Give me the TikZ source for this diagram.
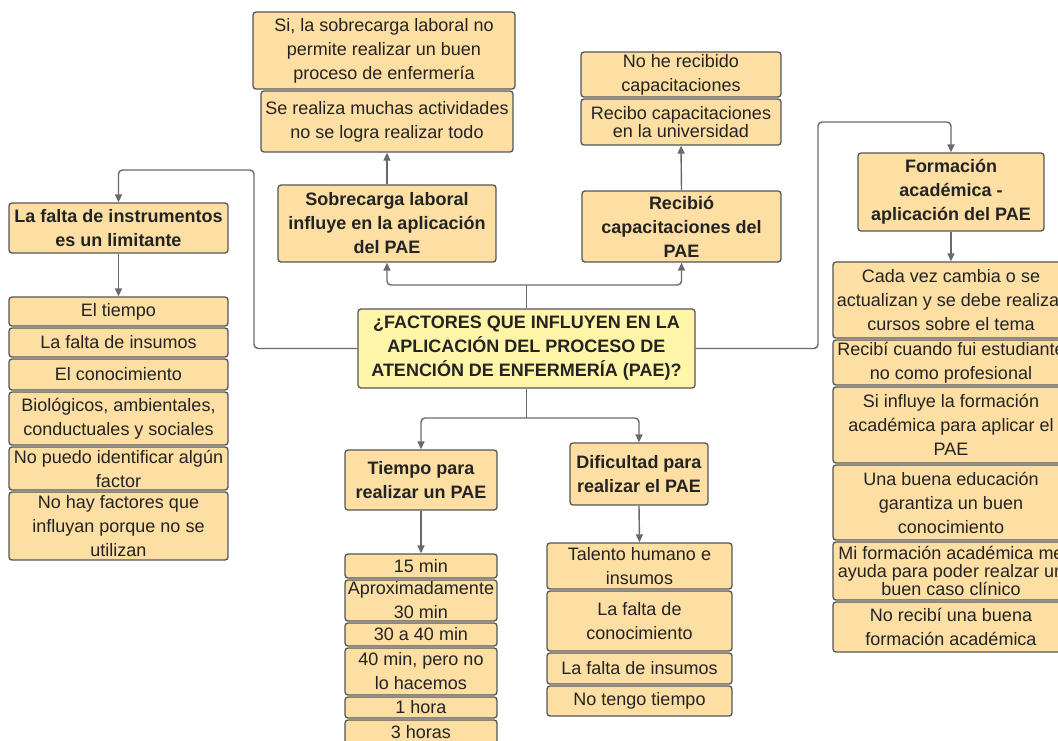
\documentclass[tikz,border=0pt]{standalone}
\usepackage{fontspec}
\setmainfont{Liberation Sans}
\usepackage{tikz}
\usetikzlibrary{arrows.meta,positioning}
\definecolor{boxPeach}{RGB}{253,222,163}
\definecolor{coreYellow}{RGB}{255,245,168}
\definecolor{edgeGray}{RGB}{85,85,85}
\definecolor{linkGray}{RGB}{105,105,105}
\definecolor{inkGray}{RGB}{35,35,35}

\begin{document}
\begin{tikzpicture}[x=1pt,y=-1pt,
    box/.style={draw=edgeGray,fill=boxPeach,line width=1.3pt,rounded corners=3pt,inner sep=0pt,align=center,text=inkGray,font=\fontsize{18}{24}\selectfont},
    head/.style={box,font=\fontsize{18}{24}\selectfont\bfseries},
    core/.style={head,fill=coreYellow},
    tight/.style={font=\fontsize{18}{18}\selectfont},
    dims/.style 2 args={minimum width=#1pt,minimum height=#2pt},
    link/.style={draw=linkGray,line width=1.4pt,rounded corners=4pt},
    tip/.style={link,-{Triangle[length=8pt,width=7pt]}}]
  \useasboundingbox (0,0) rectangle (1058,740);

  \node[core,dims={337}{79}] (core) at (526.5,348.5) {¿FACTORES QUE INFLUYEN EN LA\\APLICACIÓN DEL PROCESO DE\\ATENCIÓN DE ENFERMERÍA (PAE)?};

  \node[head,dims={219}{50}] (lack) at (118.5,228) {La falta de instrumentos\\es un limitante};
  \node[box,dims={219}{29}] (lackA) at (118.5,311.5) {El tiempo};
  \node[box,dims={219}{29}] (lackB) at (118.5,342.5) {La falta de insumos};
  \node[box,dims={219}{31}] (lackC) at (118.5,374.5) {El conocimiento};
  \node[box,dims={219}{53}] (lackD) at (118.5,418.5) {Biológicos, ambientales,\\conductuales y sociales};
  \node[box,dims={219}{43}] (lackE) at (118.5,468.5) {No puedo identificar algún\\factor};
  \node[box,dims={219}{68}] (lackF) at (118.5,526) {No hay factores que\\influyan porque no se\\utilizan};

  \node[head,dims={218}{77}] (sobre) at (387,223.5) {Sobrecarga laboral\\influye en la aplicación\\del PAE};
  \node[box,dims={262}{77}] (sobreA) at (384,50.5) {Si, la sobrecarga laboral no\\permite realizar un buen\\proceso de enfermería};
  \node[box,dims={252}{61}] (sobreB) at (387,121.5) {Se realiza muchas actividades\\no se logra realizar todo};

  \node[head,dims={199}{71}] (recib) at (681.5,226.5) {Recibió\\capacitaciones del\\PAE};
  \node[box,dims={200}{45}] (recibA) at (681,74.5) {No he recibido\\capacitaciones};
  \node[box,tight,dims={200}{46}] (recibB) at (681,122) {Recibo capacitaciones\\en la universidad};

  \node[head,dims={186}{78}] (form) at (951,192) {Formación\\académica -\\aplicación del PAE};
  \node[box,dims={236}{76}] (formA) at (951,300) {Cada vez cambia o se\\actualizan y se debe realizar\\cursos sobre el tema};
  \node[box,dims={236}{45}] (formB) at (951,362.5) {Recibí cuando fui estudiante\\no como profesional};
  \node[box,dims={236}{76}] (formC) at (951,425) {Si influye la formación\\académica para aplicar el\\PAE};
  \node[box,dims={236}{75}] (formD) at (951,502.5) {Una buena educación\\garantiza un buen\\conocimiento};
  \node[box,tight,dims={236}{58}] (formE) at (951,571) {Mi formación académica me\\ayuda para poder realzar un\\buen caso clínico};
  \node[box,dims={236}{50}] (formF) at (951,627) {No recibí una buena\\formación académica};

  \node[head,dims={152}{60}] (tiempo) at (421,480) {Tiempo para\\realizar un PAE};
  \node[box,dims={152}{24}] (tiempoA) at (421,566) {15 min};
  \node[box,dims={152}{41}] (tiempoB) at (421,600.5) {Aproximadamente\\30 min};
  \node[box,dims={152}{23}] (tiempoC) at (421,634.5) {30 a 40 min};
  \node[box,dims={152}{47}] (tiempoD) at (421,671.5) {40 min, pero no\\lo hacemos};
  \node[box,dims={152}{21}] (tiempoE) at (421,707.5) {1 hora};
  \node[box,dims={152}{25}] (tiempoF) at (421,732.5) {3 horas};

  \node[head,dims={138}{62}] (dific) at (639,474) {Dificultad para\\realizar el PAE};
  \node[box,dims={185}{46}] (dificA) at (639.5,566) {Talento humano e\\insumos};
  \node[box,dims={185}{60}] (dificB) at (639.5,621) {La falta de\\conocimiento};
  \node[box,dims={185}{31}] (dificC) at (639.5,668.5) {La falta de insumos};
  \node[box,dims={185}{30}] (dificD) at (639.5,701) {No tengo tiempo};

  \coordinate (bendL) at (254,170);
  \coordinate (bendR) at (818,122);
  \coordinate (splitT) at (526.5,285);
  \coordinate (splitB) at (526.5,418);

  \draw[tip] (core.west) -| (bendL) -| (lack.north);
  \draw[tip] (lack.south) -- (lackA.north);
  \draw[tip] (core.east) -| (bendR) -| (form.north);
  \draw[tip] (form.south) -- (formA.north);
  \draw[link] (core.north) -- (splitT);
  \draw[tip] (splitT) -| (sobre.south);
  \draw[tip] (splitT) -| (recib.south);
  \draw[tip] (sobre.north) -- (sobreB.south);
  \draw[tip] (recib.north) -- (recibB.south);
  \draw[link] (core.south) -- (splitB);
  \draw[tip] (splitB) -| (tiempo.north);
  \draw[tip] (splitB) -| (dific.north);
  \draw[tip] (tiempo.south) -- (tiempoA.north);
  \draw[tip] (dific.south) -- (dificA.north);
\end{tikzpicture}
\end{document}
